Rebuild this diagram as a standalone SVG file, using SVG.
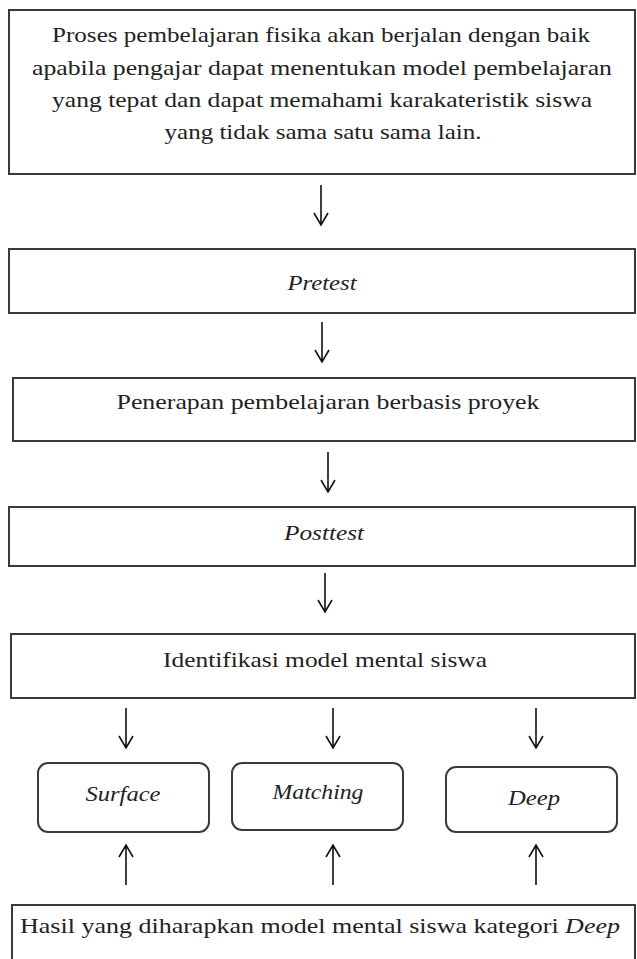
<svg xmlns="http://www.w3.org/2000/svg" width="637" height="959" viewBox="0 0 637 959">
<style>
.box{fill:#fff;stroke:#3a3a3a;stroke-width:2}
.t{font-family:"Liberation Serif","DejaVu Serif",serif;font-size:22px;fill:#222;text-anchor:middle}
.i{font-style:italic}
.c{fill:none;stroke:#111;stroke-width:1.6}
</style>
<rect width="637" height="959" fill="#fff"/>
<g id="n1">
<rect class="box" x="9" y="10" width="626" height="164"/>
<text class="t" x="321" y="42" textLength="538" lengthAdjust="spacingAndGlyphs">Proses pembelajaran fisika akan berjalan dengan baik</text>
<text class="t" x="322" y="75" textLength="580" lengthAdjust="spacingAndGlyphs">apabila pengajar dapat menentukan model pembelajaran</text>
<text class="t" x="322" y="107" textLength="540" lengthAdjust="spacingAndGlyphs">yang tepat dan dapat memahami karakateristik siswa</text>
<text class="t" x="323" y="139" textLength="317" lengthAdjust="spacingAndGlyphs">yang tidak sama satu sama lain.</text>
</g>
<g id="n2">
<rect class="box" x="9" y="249" width="626" height="64"/>
<text class="t i" x="322" y="290" textLength="69" lengthAdjust="spacingAndGlyphs">Pretest</text>
</g>
<g id="n3">
<rect class="box" x="13" y="378" width="622" height="63"/>
<text class="t" x="328" y="409" textLength="423" lengthAdjust="spacingAndGlyphs">Penerapan pembelajaran berbasis proyek</text>
</g>
<g id="n4">
<rect class="box" x="9" y="507" width="626" height="59"/>
<text class="t i" x="324" y="540" textLength="80" lengthAdjust="spacingAndGlyphs">Posttest</text>
</g>
<g id="n5">
<rect class="box" x="11" y="634" width="624" height="64"/>
<text class="t" x="325" y="667" textLength="324" lengthAdjust="spacingAndGlyphs">Identifikasi model mental siswa</text>
</g>
<g id="n6">
<rect class="box" x="38" y="763" width="171" height="69" rx="10"/>
<text class="t i" x="123" y="801" textLength="75" lengthAdjust="spacingAndGlyphs">Surface</text>
</g>
<g id="n7">
<rect class="box" x="232" y="763" width="171" height="67" rx="10"/>
<text class="t i" x="318" y="799" textLength="91" lengthAdjust="spacingAndGlyphs">Matching</text>
</g>
<g id="n8">
<rect class="box" x="446" y="767" width="171" height="65" rx="10"/>
<text class="t i" x="534" y="805" textLength="52" lengthAdjust="spacingAndGlyphs">Deep</text>
</g>
<g id="n9">
<rect class="box" x="12" y="905" width="623" height="70"/>
<text class="t" x="320" y="933" textLength="600" lengthAdjust="spacingAndGlyphs">Hasil yang diharapkan model mental siswa kategori <tspan class="i">Deep</tspan></text>
</g>
<g id="connectors" class="c">
<path d="M321 185V225M314 213L321 225L328 213"/>
<path d="M322 322V362M315 350L322 362L329 350"/>
<path d="M328 452V492M321 480L328 492L335 480"/>
<path d="M325 573V612M318 600L325 612L332 600"/>
<path d="M126 708V748M119 736L126 748L133 736"/>
<path d="M333 708V748M326 736L333 748L340 736"/>
<path d="M536 708V748M529 736L536 748L543 736"/>
<path d="M126 885V845M119 857L126 845L133 857"/>
<path d="M333 885V845M326 857L333 845L340 857"/>
<path d="M536 885V845M529 857L536 845L543 857"/>
</g>
</svg>
